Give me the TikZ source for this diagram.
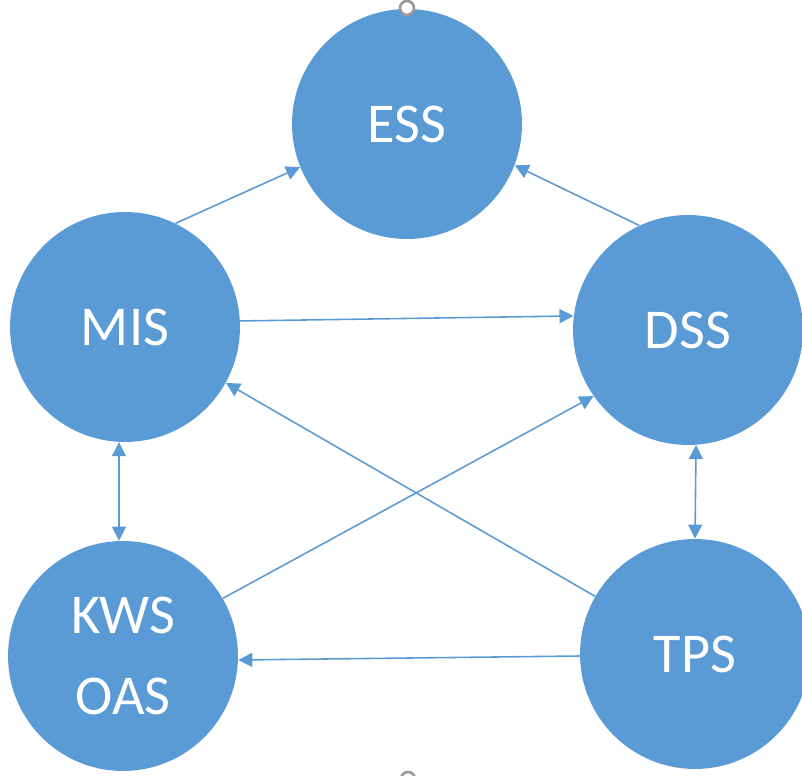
\documentclass[tikz,border=0pt]{standalone}
\usepackage{fontspec}
\setmainfont{Carlito}
\usetikzlibrary{arrows.meta}
\definecolor{sysblue}{HTML}{5B9BD5}

\begin{document}
\begin{tikzpicture}[x=0.02cm,y=-0.02cm,
    sys/.style={circle,fill=sysblue,text=white,minimum size=4.6cm,inner sep=0pt,
      align=center,font=\fontsize{32}{48}\selectfont},
    link/.style={draw=sysblue,line width=0.9pt,-{Triangle[width=8pt,length=8pt]}},
    both/.style={link,{Triangle[width=8pt,length=8pt]}-{Triangle[width=8pt,length=8pt]}},
    handle/.style={circle,draw=gray!80,line width=1.5pt,fill=white,minimum size=0.28cm,inner sep=0pt}]
  \useasboundingbox (0,0) rectangle (802,776);

  % the five systems
  \node [sys] (ess) at (407,124) {ESS};
  \node [sys] (mis) at (125,327) {MIS};
  \node [sys] (dss) at (688,330) {DSS};
  \node [sys] (kws) at (123,656) {KWS\\[-2pt]OAS};
  \node [sys] (tps) at (695,654) {TPS};

  % selection handles
  \node [handle] (htop) at (407,8) {};
  \node [handle] (hbot) at (408,779) {};

  % information flows
  \draw [link] (mis.64) -- (ess.202);
  \draw [link] (dss.115) -- (ess.339);
  \draw [link] (mis.3) -- (dss.173);
  \draw [link] (tps.150) -- (mis.331);
  \draw [link] (kws.30) -- (dss.215);
  \draw [link] (tps.181) -- (kws.358);
  \draw [both] (mis.267) -- (kws.92);
  \draw [both] (dss.274) -- (tps.90);
\end{tikzpicture}
\end{document}
